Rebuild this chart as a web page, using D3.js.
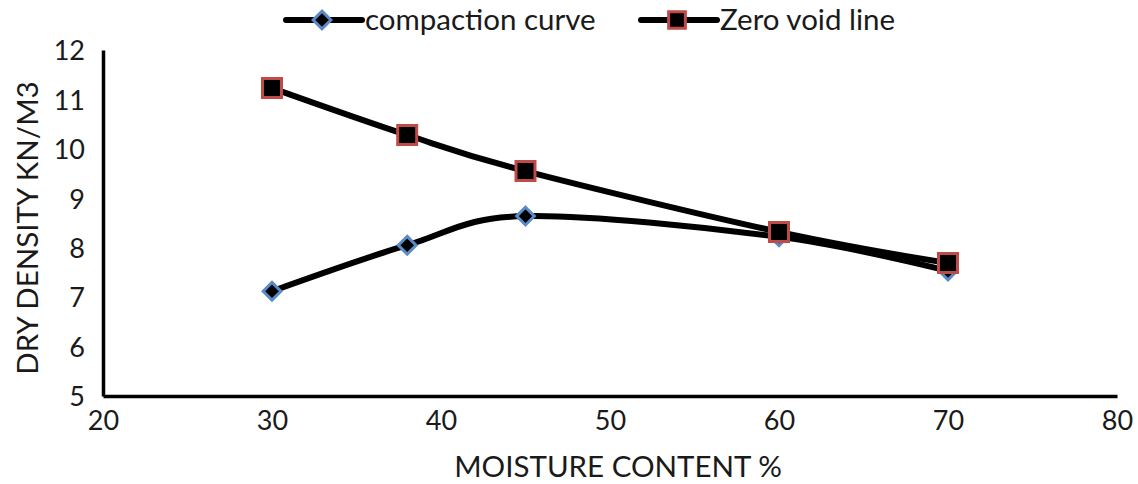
<!DOCTYPE html>
<html>
<head>
<meta charset="utf-8">
<script src="https://cdn.jsdelivr.net/npm/d3@7"></script>
<style>
  html, body { margin: 0; padding: 0; background: #fff; }
  svg { display: block; }
  text { font-family: Lato, "Open Sans", sans-serif; fill: #1a1a1a; }
</style>
</head>
<body>
<svg id="chart" width="1138" height="484"></svg>
<script>
const moisture = [30, 38, 45, 60, 70];
const compaction = [7.12, 8.05, 8.64, 8.22, 7.53];
const zeroVoid = [11.23, 10.28, 9.55, 8.32, 7.69];
const xTicks = [20, 30, 40, 50, 60, 70, 80];
const yTicks = [5, 6, 7, 8, 9, 10, 11, 12];
const seriesNames = ["compaction curve", "Zero void line"];

const svg = d3.select("#chart");
const m = { left: 103, right: 1117, top: 50, bottom: 396 };

const x = d3.scaleLinear().domain([20, 80]).range([m.left, m.right]);
const y = d3.scaleLinear().domain([5, 12]).range([m.bottom, m.top]);

// axes
const xAxis = d3.axisBottom(x).tickValues(xTicks).tickFormat(d3.format("d")).tickSize(0).tickPadding(12);
const yAxis = d3.axisLeft(y).tickValues(yTicks).tickFormat(d3.format("d")).tickSize(0).tickPadding(18);

const gx = svg.append("g").attr("transform", `translate(0,${m.bottom})`).call(xAxis);
const gy = svg.append("g").attr("transform", `translate(${m.left},0)`).call(yAxis);
[gx, gy].forEach(g => {
  g.select(".domain").attr("stroke", "#000").attr("stroke-width", 3.5);
  g.selectAll("text").style("font-family", "Lato, 'Open Sans', sans-serif")
    .style("font-size", "27px").attr("fill", "#1a1a1a");
});
gx.selectAll("text").attr("dy", "0.8em");
gy.selectAll("text").attr("dy", "0.36em");

// axis titles
svg.append("text").attr("x", 618).attr("y", 477)
  .attr("text-anchor", "middle").style("font-size", "29.5px")
  .text("MOISTURE CONTENT %");
svg.append("text").attr("transform", `translate(38,228) rotate(-90)`)
  .attr("text-anchor", "middle").style("font-size", "29.5px")
  .text("DRY DENSITY KN/M3");

// lines
const line = d3.line().x(d => x(d[0])).y(d => y(d[1])).curve(d3.curveCatmullRom.alpha(0));
const compData = moisture.map((v, i) => [v, compaction[i]]);
const zvData = moisture.map((v, i) => [v, zeroVoid[i]]);

svg.append("path").datum(compData).attr("d", line)
  .attr("fill", "none").attr("stroke", "#000").attr("stroke-width", 6);
svg.append("path").datum(zvData).attr("d", line)
  .attr("fill", "none").attr("stroke", "#000").attr("stroke-width", 6);

const diamond = d3.symbol().type(d3.symbolDiamond2).size(200);
const square = d3.symbol().type(d3.symbolSquare).size(360);

svg.append("g").selectAll("path").data(compData).join("path")
  .attr("transform", d => `translate(${x(d[0])},${y(d[1])})`)
  .attr("d", diamond).attr("fill", "#000").attr("stroke", "#5b8bc7").attr("stroke-width", 3);
svg.append("g").selectAll("path").data(zvData).join("path")
  .attr("transform", d => `translate(${x(d[0])},${y(d[1])})`)
  .attr("d", square).attr("fill", "#000").attr("stroke", "#be4b48").attr("stroke-width", 3);

// legend
const leg = [
  { name: seriesNames[0], x0: 286, sym: d3.symbol().type(d3.symbolDiamond2).size(200), stroke: "#5b8bc7" },
  { name: seriesNames[1], x0: 641, sym: d3.symbol().type(d3.symbolSquare).size(280), stroke: "#be4b48" }
];
leg.forEach(l => {
  const g = svg.append("g");
  g.append("line").attr("x1", l.x0).attr("x2", l.x0 + 76).attr("y1", 20).attr("y2", 20)
    .attr("stroke", "#000").attr("stroke-width", 6).attr("stroke-linecap", "round");
  g.append("path").attr("transform", `translate(${l.x0 + 36},20)`)
    .attr("d", l.sym()).attr("fill", "#000").attr("stroke", l.stroke).attr("stroke-width", 3);
  g.append("text").attr("x", l.x0 + 79).attr("y", 30).style("font-size", "29.5px").text(l.name);
});
</script>
</body>
</html>
